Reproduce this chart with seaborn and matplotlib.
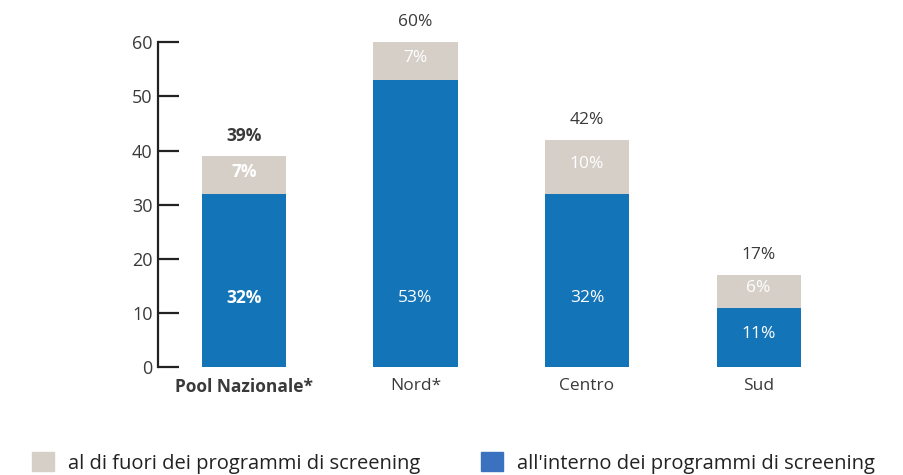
import matplotlib
matplotlib.use('Agg')
import matplotlib.pyplot as plt
from matplotlib.patches import Patch
import pandas as pd
import seaborn as sns

# Data
categories = ['Pool Nazionale*', 'Nord*', 'Centro', 'Sud']
inside = [32, 53, 32, 11]      # all'interno dei programmi di screening
outside = [7, 7, 10, 6]        # al di fuori dei programmi di screening
totals = [39, 60, 42, 17]

BLUE = '#1474b8'
GREY = '#d6cfc8'
TEXT = '#3a3a3a'

sns.set_style('white')
plt.rcParams['font.family'] = ['Open Sans', 'DejaVu Sans']

df = pd.DataFrame({'cat': categories, 'inside': inside,
                   'total': [i + o for i, o in zip(inside, outside)]})

fig = plt.figure(figsize=(9.04, 4.75), dpi=100)
ax = fig.add_axes([0.175, 0.227, 0.759, 0.6842])

# stacked: draw full height in grey, then the blue part over it
sns.barplot(data=df, x='cat', y='total', color=GREY, width=0.49,
            saturation=1, linewidth=0, ax=ax)
sns.barplot(data=df, x='cat', y='inside', color=BLUE, width=0.49,
            saturation=1, linewidth=0, ax=ax)

ax.set_ylim(0, 60)
ax.set_xlim(-0.5, 3.5)
ax.set_xlabel('')
ax.set_ylabel('')
ax.set_yticks(range(0, 61, 10))
for s in ['top', 'right', 'bottom']:
    ax.spines[s].set_visible(False)
ax.spines['left'].set_color('#222222')
ax.spines['left'].set_linewidth(1.6)
ax.tick_params(axis='y', left=True, direction='in', length=15, width=1.6,
               color='#222222', labelsize=13, labelcolor=TEXT, pad=4)
ax.tick_params(axis='x', bottom=False, length=0, labelsize=12.5,
               labelcolor=TEXT, pad=8)
ax.get_xticklabels()[0].set_fontweight('bold')

for i in range(len(categories)):
    bold = 'bold' if i == 0 else 'normal'
    ax.text(i, totals[i] + 3.7, f'{totals[i]}%', ha='center', va='center',
            fontsize=12.5, color=TEXT, fontweight=bold)
    ax.text(i, inside[i] + outside[i] / 2 + 0.6, f'{outside[i]}%',
            ha='center', va='center', fontsize=12.5, color='white',
            fontweight=bold)
    ax.text(i, min(inside[i] / 2 + 0.6, 12.7), f'{inside[i]}%',
            ha='center', va='center', fontsize=12.5, color='white',
            fontweight=bold)

handles = [Patch(color=GREY, label='al di fuori dei programmi di screening'),
           Patch(color='#3b72c0', label="all'interno dei programmi di screening")]
fig.legend(handles=handles, loc='lower left', bbox_to_anchor=(0.015, -0.035),
           ncol=2, frameon=False, fontsize=14.5, handlelength=1.1,
           handleheight=1.1, columnspacing=3.0, handletextpad=0.7,
           labelcolor='#222222')

plt.savefig('out.png', dpi=100)
